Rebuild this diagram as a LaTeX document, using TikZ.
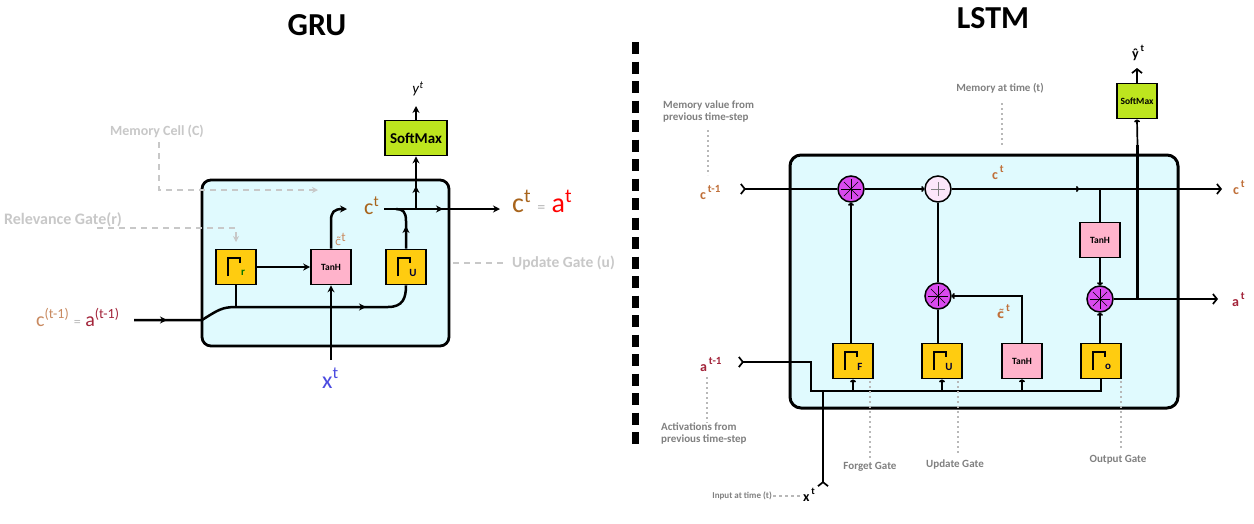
\documentclass[tikz,border=0pt]{standalone}
\usepackage{fontspec}
\setmainfont{Carlito}
\newfontfamily\djv{DejaVu Sans}
\usetikzlibrary{arrows.meta}
\definecolor{cellfill}{HTML}{E0FAFE}
\definecolor{gatey}{HTML}{FFCC10}
\definecolor{tanhp}{HTML}{FFB3CB}
\definecolor{smgreen}{HTML}{BDE51E}
\definecolor{mulm}{HTML}{D94AEE}
\definecolor{plusp}{HTML}{FCE6FA}
\definecolor{cbrown}{HTML}{A8641C}
\definecolor{lbrown}{HTML}{C98A60}
\definecolor{dred}{HTML}{A3243A}
\definecolor{lgrey}{HTML}{C8C8C8}
\definecolor{dgrey}{HTML}{808080}
\definecolor{xblue}{HTML}{4B4BE0}
\definecolor{lorange}{HTML}{C0703A}
\definecolor{eqgrey}{HTML}{B8B8B8}
\newcommand\fs[1]{\fontsize{#1}{#1}\selectfont}
\newcommand\ctil{{\djv c^^^^0303}}
\newcommand\gatesym[2]{%
  \draw[line width=1.8pt] ([shift={(-8,9)}]#1.center) -- ++(0,-18) -- ++(12,0) -- ++(0,5);
  \node[font=\bfseries\fs{11}, text=#2, inner sep=0pt] at ([shift={(7,6)}]#1.center) {\gatesub};}
\newcommand\mulsym[1]{%
  \foreach \a in {0,45,90,135} \draw[line width=0.6pt] ([shift={(\a:10)}]#1.center) -- ([shift={(\a+180:10)}]#1.center);}
\tikzset{
  cellbox/.style={draw=black, line width=2.8pt, fill=cellfill, rounded corners=9pt, inner sep=0pt},
  gatebox/.style={draw=black, line width=1.8pt, fill=gatey, minimum width=40pt, minimum height=35pt, inner sep=0pt},
  tanhbox/.style={draw=black, line width=1.6pt, fill=tanhp, minimum width=40pt, minimum height=35pt, inner sep=0pt, font=\bfseries\fs{9.5}},
  smbox/.style={draw=black, line width=1.8pt, fill=smgreen, inner sep=0pt, font=\bfseries},
  mulnode/.style={circle, draw=black, line width=1.5pt, fill=mulm, minimum size=26pt, inner sep=0pt},
  plusnode/.style={circle, draw=black, line width=1.5pt, fill=plusp, minimum size=26pt, inner sep=0pt},
  gline/.style={line width=2.5pt, black},
  lline/.style={line width=1.7pt, black},
  gtip/.style={-{Stealth[length=7pt,width=7pt]}},
  ltip/.style={-{To[length=3pt,width=6pt]}},
  barb/.style={-{Straight Barb[length=4pt,width=10pt,line width=1.7pt]}},
  rbarb/.style={-{Straight Barb[reversed,length=4pt,width=10pt,line width=1.7pt]}},
  lbarb/.style={{Straight Barb[reversed,length=4pt,width=10pt,line width=1.7pt]}-},
  dashg/.style={lgrey, line width=1.3pt, dash pattern=on 6pt off 5pt},
  dotg/.style={eqgrey, line width=1.6pt, dash pattern=on 2pt off 3pt},
  glbl/.style={text=lgrey, font=\bfseries\fs{14}, inner sep=0pt},
  llbl/.style={text=dgrey, font=\bfseries\fs{11}, inner sep=0pt, align=left},
  title/.style={font=\bfseries\fs{32}, inner sep=0pt},
}
\begin{document}
\begin{tikzpicture}[x=1pt,y=-1pt]
\useasboundingbox[fill=white] (0,0) rectangle (1254,523);

% ================= GRU =================
\node[title] (gtitle) at (317,25) {GRU};
\node[cellbox, minimum width=247pt, minimum height=166pt] (gcell) at (325.5,263) {};
\node[gatebox] (gr) at (236,267) {};
\def\gatesub{r}\gatesym{gr}{green!45!black}
\node[tanhbox] (gt) at (331,267) {TanH};
\node[gatebox] (gu) at (406,267) {};
\def\gatesub{U}\gatesym{gu}{black!80!blue}
\node[smbox, minimum width=62pt, minimum height=35pt, font=\bfseries\fs{15}] (gsm) at (416,138) {SoftMax};
\node[inner sep=0pt, font=\fs{15}] (gy) at (418,89) {\textit{y}\textsuperscript{\textit{t}}};

% labels
\node[inner sep=0pt, anchor=base west, font=\fs{22}, text=cbrown] (gct) at (364,214) {c\textsuperscript{t}};
\node[inner sep=0pt, anchor=base west, font=\fs{11}, text=lbrown] (gctil) at (335,245) {\ctil\textsuperscript{\fs{13}t}};
\node[inner sep=0pt, anchor=base west, font=\fs{28}] (gres) at (512,212) {\textcolor{cbrown}{c\textsuperscript{t}} \textcolor{eqgrey}{\fs{16}=} \textcolor{red}{a\textsuperscript{t}}};
\node[inner sep=0pt, anchor=base west, font=\fs{20}] (gprev) at (36,326) {\textcolor{lbrown}{c\textsuperscript{(t-1)}} \textcolor{eqgrey}{\fs{14}=} \textcolor{dred}{a\textsuperscript{(t-1)}}};
\node[inner sep=0pt, anchor=base west, font=\fs{24}, text=xblue] (gx) at (322,388) {x\textsuperscript{t}};
\node[glbl] (gmem) at (157,131) {Memory Cell (C)};
\node[glbl, font=\bfseries\fs{16}] (grel) at (63,220) {Relevance Gate(r)};
\node[glbl, anchor=west, font=\bfseries\fs{15.5}] (gupd) at (512,263) {Update Gate (u)};

% coordinates
\coordinate (gin) at (134,320);
\coordinate (gedge) at (202,320);
\coordinate (gout) at (500,209);
\coordinate (gxin) at (331,360);
\coordinate (gytop) at (416,106);

% connectors
\draw[gline] (gin) -- (gedge) .. controls (218,310) and (222,307) .. (236,307) -- (388,307) .. controls (403,307) and (406,298) .. (gu.south);
\draw[gline, gtip] (gin) -- (167,320);
\draw[gline, gtip] (330,307) -- (366,307);
\draw[gline] (gr.south) -- (236,307);
\draw[gline, gtip] (gr.east) -- (gt.west);
\draw[gline, gtip] (gt.north) -- (331,221) .. controls (331,212) and (334,209) .. (347,209);
\draw[gline, gtip] (384,209) -- (gout);
\draw[gline, gtip] (420,209) -- (443,209);
\draw[gline] (gu.north) -- (406,221) .. controls (406,212) and (403,209) .. (396,209);
\draw[gline, gtip] (406,245) -- (406,226);
\draw[gline, gtip] (416,209) -- (gsm.south);
\draw[gline, gtip] (416,200) -- (416,186);
\draw[gline, gtip] (gsm.north) -- (gytop);
\draw[gline, gtip] (gxin) -- (gt.south);
\draw[dashg, -{Stealth[length=6pt,width=6pt]}] (159,142) -- (159,190) -- (318,190);
\draw[dashg, -{Stealth[length=6pt,width=6pt]}] (97,228) -- (236,228) -- (236,242);
\draw[dashg] (453,263) -- (505,263);

% ================= divider =================
\draw[line width=7pt, dash pattern=on 12pt off 7.5pt] (635,42) -- (635,445);

% ================= LSTM =================
\node[title] (ltitle) at (993,18) {LSTM};
\node[cellbox, line width=3pt, rounded corners=11pt, minimum width=388pt, minimum height=253pt] (lcell) at (984,281.5) {};
\node[mulnode] (m1) at (851,189) {}; \mulsym{m1}
\node[plusnode] (pl) at (938,189) {};
\draw[gray, line width=0.8pt] ([xshift=-7pt]pl.center) -- ([xshift=7pt]pl.center) ([yshift=-7pt]pl.center) -- ([yshift=7pt]pl.center);
\node[mulnode] (m2) at (938,296) {}; \mulsym{m2}
\node[mulnode] (m3) at (1100,299) {}; \mulsym{m3}
\node[tanhbox] (lt1) at (1100,240) {TanH};
\node[gatebox] (gF) at (853,361) {};
\def\gatesub{F}\gatesym{gF}{black!80!blue}
\node[gatebox] (gU) at (942,361) {};
\def\gatesub{U}\gatesym{gU}{black!80!blue}
\node[tanhbox] (lt2) at (1022,361) {TanH};
\node[gatebox] (gO) at (1101,361) {};
\def\gatesub{o}\gatesym{gO}{black!80!blue}
\node[smbox, minimum width=40pt, minimum height=35pt, font=\bfseries\fs{9.5}] (lsm) at (1137,101) {SoftMax};

% labels
\node[inner sep=0pt, anchor=base west, font=\bfseries\fs{14}, text=lorange] (lcin) at (700,199) {c\raisebox{7pt}{\fs{11}\,t-1}};
\node[inner sep=0pt, anchor=base west, font=\bfseries\fs{14}, text=dred] (lain) at (700,371) {a\raisebox{7pt}{\fs{11}\,t-1}};
\node[inner sep=0pt, anchor=base west, font=\bfseries\fs{14}, text=lorange] (lct) at (992,179) {c\raisebox{7pt}{\fs{11}\,t}};
\node[inner sep=0pt, anchor=base west, font=\bfseries\fs{14}, text=lorange] (lcout) at (1233,194) {c\raisebox{7pt}{\fs{11}\,t}};
\node[inner sep=0pt, anchor=base west, font=\bfseries\fs{14}, text=dred] (laout) at (1232,306) {a\raisebox{7pt}{\fs{11}\,t}};
\node[inner sep=0pt, anchor=base west, font=\bfseries\fs{12}, text=lorange] (lctil) at (997,318) {\ctil\raisebox{7pt}{\fs{11}\,t}};
\node[inner sep=0pt, anchor=base west, font=\bfseries\fs{14}] (ly) at (1132,58) {\^{y}\raisebox{7pt}{\fs{10}\,t}};
\node[inner sep=0pt, anchor=base west, font=\bfseries\fs{14}] (lx) at (803,501) {x\raisebox{7pt}{\fs{10}\,t}};

\node[llbl, anchor=north west] (lmv) at (663,101) {Memory value from\\[1pt]previous time-step};
\node[llbl] (lmt) at (1000,88) {Memory at time (t)};
\node[llbl, anchor=north west] (lact) at (661,423) {Activations from\\[1pt]previous time-step};
\node[llbl] (lfg) at (870,467) {Forget Gate};
\node[llbl] (lug) at (955,464) {Update Gate};
\node[llbl] (log) at (1118,460) {Output Gate};
\node[llbl, anchor=east, font=\bfseries\fs{9}] (linp) at (772,496) {Input at time (t)};

% coordinates
\coordinate (lcstart) at (740,189);
\coordinate (lcend) at (1222,189);
\coordinate (laend) at (1218,299);
\coordinate (lastart) at (738,362);
\coordinate (lxend) at (823,487);
\coordinate (lyend) at (1137,68);

% connectors
\draw[lline, lbarb] (lcstart) -- (m1.west);
\draw[lline, ltip] (m1.east) -- (pl.west);
\draw[lline, barb] (pl.east) -- (lcend);
\draw[lline, ltip] (1070,189) -- (1079,189);
\draw[lline] (lt1.north |- pl) -- (lt1.north);
\draw[lline, ltip] (lt1.south) -- (m3.north);
\draw[lline, barb] (m3.east) -- (laend);
\draw[line width=3.6pt] (1137.5,299) -- (1137.5,145);
\draw[lline, ltip] (1137.5,145) -- (lsm.south);
\draw[lline, barb] (lsm.north) -- (lyend);
\draw[lline, ltip] (gF.north -| m1) -- (m1.south);
\draw[lline] (gU.north -| m2) -- (m2.south);
\draw[lline] (m2.north) -- (pl.south);
\draw[lline, ltip] (lt2.north) |- (m2.east);
\draw[lline, ltip] (gO.north -| m3) -- (m3.south);
\draw[lline, lbarb] (lastart) -- (811,362) -- (811,391) -- (1101,391) -- (gO.south);
\draw[lline, ltip] (gF.south |- 0,391) -- (gF.south);
\draw[lline, ltip] (gU.south |- 0,391) -- (gU.south);
\draw[lline, ltip] (lt2.south |- 0,391) -- (lt2.south);
\draw[lline, rbarb] (823,391) -- (lxend);

% annotation lines
\draw[dotg] (708,130) -- (708,175);
\draw[dotg] (1002,103) -- (1002,147);
\draw[dotg] (707,377) -- (707,423);
\draw[dotg] (870,381) -- (870,458);
\draw[dotg] (958,381) -- (958,455);
\draw[dotg] (1121,381) -- (1121,450);
\draw[dotg, dash pattern=on 3pt off 3pt] (773,496) -- (800,496);
\end{tikzpicture}
\end{document}
